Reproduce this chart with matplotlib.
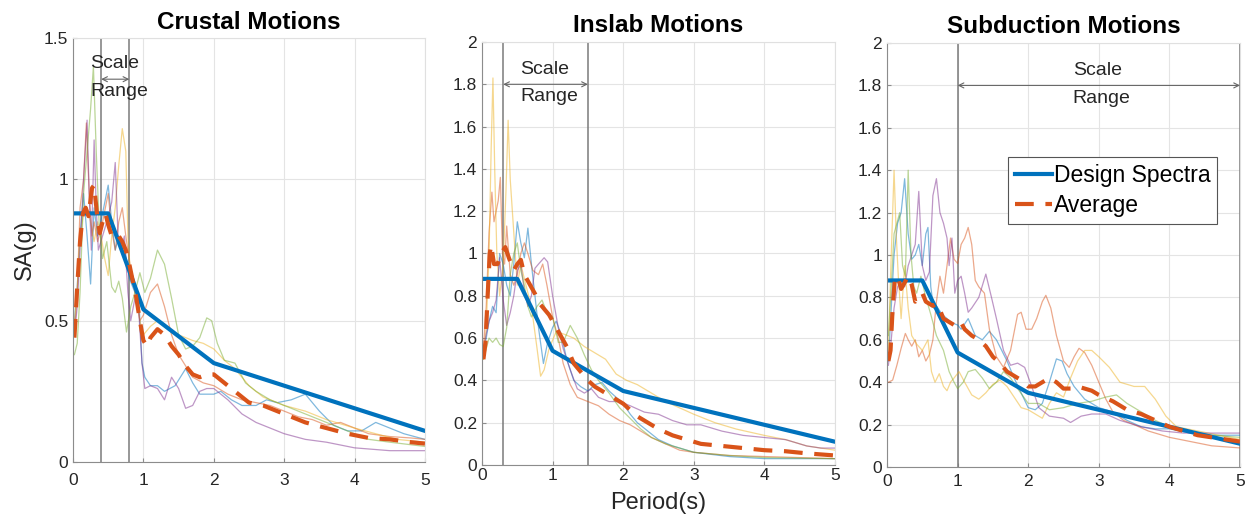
import numpy as np
import matplotlib
matplotlib.use("Agg")
import matplotlib.pyplot as plt
from matplotlib import ticker

plt.rcParams["font.family"] = ["Liberation Sans", "DejaVu Sans"]

# design spectrum (same site for all three panels)
design_T = [0.0, 0.5, 1.0, 2.0, 5.0]
design_SA = [0.88, 0.88, 0.54, 0.35, 0.11]

# ---- Crustal motions ----
cr_avg = [(0.02, 0.44), (0.06, 0.62), (0.1, 0.78), (0.14, 0.88), (0.18, 0.9), (0.22, 0.87),
          (0.27, 0.97), (0.3, 0.98), (0.34, 0.88), (0.38, 0.81), (0.42, 0.85), (0.46, 0.88),
          (0.5, 0.84), (0.55, 0.8), (0.6, 0.79), (0.65, 0.8), (0.7, 0.78), (0.75, 0.75),
          (0.8, 0.7), (0.85, 0.64), (0.9, 0.58), (0.95, 0.5), (1.0, 0.43), (1.05, 0.41),
          (1.1, 0.44), (1.2, 0.47), (1.3, 0.45), (1.4, 0.41), (1.5, 0.38), (1.6, 0.34),
          (1.7, 0.31), (1.8, 0.3), (1.9, 0.31), (2.0, 0.31), (2.1, 0.29), (2.3, 0.25),
          (2.5, 0.21), (2.7, 0.2), (3.0, 0.17), (3.3, 0.14), (3.6, 0.12), (3.9, 0.1),
          (4.2, 0.085), (4.5, 0.08), (4.8, 0.07), (5.0, 0.065)]
cr_blue = [(0.02, 0.5), (0.06, 0.62), (0.1, 0.8), (0.15, 0.95), (0.2, 0.8), (0.25, 0.63),
           (0.3, 0.9), (0.35, 0.8), (0.42, 0.88), (0.5, 0.98), (0.55, 0.85), (0.6, 0.75),
           (0.65, 0.8), (0.72, 0.78), (0.8, 0.65), (0.88, 0.6), (0.93, 0.6), (0.98, 0.35),
           (1.02, 0.3), (1.1, 0.27), (1.2, 0.27), (1.3, 0.25), (1.45, 0.27), (1.6, 0.33),
           (1.7, 0.28), (1.8, 0.24), (2.0, 0.24), (2.1, 0.25), (2.25, 0.22), (2.4, 0.2),
           (2.6, 0.2), (2.75, 0.22), (2.9, 0.21), (3.1, 0.22), (3.3, 0.24), (3.5, 0.18),
           (3.7, 0.13), (3.9, 0.11), (4.1, 0.11), (4.3, 0.14), (4.5, 0.12), (4.7, 0.1),
           (5.0, 0.08)]
cr_red = [(0.02, 0.45), (0.06, 0.6), (0.1, 0.9), (0.15, 1.0), (0.19, 1.2), (0.23, 0.95),
          (0.27, 0.8), (0.3, 0.85), (0.35, 0.78), (0.42, 0.85), (0.5, 0.95), (0.55, 0.82),
          (0.6, 0.75), (0.65, 0.85), (0.7, 0.9), (0.75, 0.8), (0.82, 0.68), (0.88, 0.6),
          (0.95, 0.5), (1.0, 0.52), (1.1, 0.6), (1.2, 0.63), (1.3, 0.55), (1.4, 0.45),
          (1.5, 0.38), (1.6, 0.34), (1.7, 0.3), (1.85, 0.28), (2.0, 0.27), (2.2, 0.24),
          (2.4, 0.22), (2.6, 0.21), (2.8, 0.2), (3.0, 0.18), (3.2, 0.16), (3.4, 0.15),
          (3.6, 0.13), (3.8, 0.14), (4.0, 0.12), (4.2, 0.1), (4.5, 0.09), (4.8, 0.085),
          (5.0, 0.08)]
cr_yellow = [(0.02, 0.5), (0.06, 0.6), (0.1, 0.8), (0.15, 0.88), (0.2, 0.9), (0.25, 0.85),
             (0.3, 0.78), (0.35, 0.85), (0.4, 0.8), (0.45, 0.72), (0.5, 0.66), (0.55, 0.8),
             (0.6, 0.9), (0.65, 1.05), (0.7, 1.18), (0.75, 1.1), (0.78, 0.8), (0.82, 0.65),
             (0.9, 0.6), (0.95, 0.5), (1.0, 0.45), (1.1, 0.48), (1.2, 0.5), (1.35, 0.47),
             (1.5, 0.45), (1.7, 0.43), (1.85, 0.42), (2.0, 0.4), (2.15, 0.36), (2.3, 0.33),
             (2.5, 0.27), (2.7, 0.23), (3.0, 0.2), (3.3, 0.18), (3.6, 0.15), (4.0, 0.12),
             (4.3, 0.1), (4.6, 0.08), (5.0, 0.07)]
cr_purple = [(0.02, 0.45), (0.06, 0.55), (0.1, 0.75), (0.15, 1.0), (0.2, 1.21), (0.23, 0.95),
             (0.26, 0.75), (0.3, 1.14), (0.33, 0.9), (0.36, 0.75), (0.42, 0.8), (0.48, 0.85),
             (0.55, 0.92), (0.6, 1.06), (0.64, 0.8), (0.68, 0.75), (0.73, 0.8), (0.78, 0.6),
             (0.82, 0.5), (0.88, 0.58), (0.93, 0.55), (0.98, 0.35), (1.02, 0.26), (1.1, 0.27),
             (1.2, 0.26), (1.3, 0.22), (1.4, 0.3), (1.5, 0.26), (1.6, 0.19), (1.7, 0.2),
             (1.8, 0.25), (1.9, 0.26), (2.0, 0.26), (2.2, 0.22), (2.4, 0.17), (2.6, 0.14),
             (2.8, 0.12), (3.0, 0.1), (3.3, 0.08), (3.6, 0.07), (4.0, 0.05), (4.5, 0.04),
             (5.0, 0.04)]
cr_green = [(0.02, 0.38), (0.06, 0.42), (0.1, 0.6), (0.15, 0.95), (0.2, 1.1), (0.25, 1.25),
            (0.29, 1.4), (0.33, 1.1), (0.37, 0.85), (0.42, 0.72), (0.48, 0.78), (0.55, 0.62),
            (0.6, 0.6), (0.65, 0.64), (0.7, 0.58), (0.76, 0.46), (0.82, 0.55), (0.88, 0.6),
            (0.95, 0.67), (1.02, 0.6), (1.1, 0.65), (1.2, 0.75), (1.3, 0.7), (1.4, 0.58),
            (1.5, 0.45), (1.6, 0.4), (1.7, 0.41), (1.8, 0.44), (1.9, 0.51), (1.97, 0.5),
            (2.05, 0.42), (2.15, 0.36), (2.3, 0.35), (2.45, 0.28), (2.6, 0.25), (2.8, 0.22),
            (3.0, 0.2), (3.3, 0.17), (3.6, 0.14), (3.9, 0.11), (4.2, 0.08), (4.5, 0.07),
            (5.0, 0.055)]

# ---- Inslab motions ----
in_avg = [(0.02, 0.5), (0.05, 0.58), (0.08, 0.8), (0.11, 1.0), (0.13, 1.04), (0.17, 0.95),
          (0.22, 0.95), (0.27, 1.0), (0.33, 1.03), (0.38, 0.98), (0.45, 0.92), (0.5, 0.95),
          (0.55, 0.97), (0.6, 0.9), (0.65, 0.87), (0.7, 0.84), (0.75, 0.81), (0.8, 0.77),
          (0.9, 0.73), (0.95, 0.71), (1.0, 0.68), (1.1, 0.62), (1.2, 0.56), (1.3, 0.48),
          (1.4, 0.44), (1.5, 0.4), (1.6, 0.37), (1.7, 0.35), (1.8, 0.33), (1.9, 0.31),
          (2.0, 0.29), (2.1, 0.26), (2.2, 0.23), (2.35, 0.2), (2.5, 0.17), (2.7, 0.14),
          (2.9, 0.12), (3.1, 0.1), (3.4, 0.09), (3.7, 0.08), (4.0, 0.07), (4.3, 0.065),
          (4.6, 0.055), (5.0, 0.045)]
in_blue = [(0.02, 0.55), (0.06, 0.6), (0.1, 0.68), (0.15, 0.75), (0.2, 0.72), (0.25, 1.0),
           (0.3, 0.95), (0.35, 0.85), (0.4, 0.8), (0.45, 0.95), (0.5, 1.15), (0.55, 1.05),
           (0.6, 0.98), (0.65, 1.12), (0.7, 0.95), (0.75, 0.8), (0.8, 0.65), (0.87, 0.48),
           (0.93, 0.58), (1.0, 0.65), (1.05, 0.68), (1.12, 0.62), (1.2, 0.5), (1.3, 0.4),
           (1.4, 0.37), (1.5, 0.35), (1.6, 0.38), (1.7, 0.39), (1.8, 0.35), (1.9, 0.32),
           (2.0, 0.29), (2.1, 0.24), (2.2, 0.2), (2.35, 0.16), (2.5, 0.12), (2.7, 0.09),
           (3.0, 0.06), (3.5, 0.04), (4.0, 0.03), (5.0, 0.03)]
in_red = [(0.02, 0.55), (0.06, 0.75), (0.1, 1.1), (0.14, 1.29), (0.17, 1.15), (0.2, 1.2),
          (0.23, 1.25), (0.26, 1.36), (0.29, 1.0), (0.32, 0.95), (0.35, 1.13), (0.4, 0.9),
          (0.45, 0.85), (0.5, 0.9), (0.55, 1.0), (0.6, 1.05), (0.65, 1.0), (0.72, 0.92),
          (0.8, 0.9), (0.86, 0.95), (0.92, 0.85), (1.0, 0.7), (1.08, 0.6), (1.15, 0.48),
          (1.25, 0.38), (1.35, 0.32), (1.5, 0.3), (1.65, 0.28), (1.8, 0.24), (1.95, 0.21),
          (2.1, 0.19), (2.25, 0.16), (2.4, 0.13), (2.6, 0.1), (2.8, 0.07), (3.0, 0.06),
          (3.5, 0.045), (4.0, 0.04), (4.5, 0.035), (5.0, 0.03)]
in_yellow = [(0.02, 0.5), (0.06, 0.65), (0.1, 1.0), (0.13, 1.5), (0.155, 1.83), (0.18, 1.4),
             (0.21, 1.0), (0.25, 0.8), (0.3, 0.95), (0.34, 1.3), (0.37, 1.63), (0.4, 1.35),
             (0.45, 1.1), (0.5, 0.85), (0.55, 0.95), (0.6, 0.88), (0.66, 0.8), (0.72, 0.7),
             (0.78, 0.55), (0.83, 0.42), (0.88, 0.45), (0.95, 0.55), (1.05, 0.63), (1.15, 0.62),
             (1.3, 0.6), (1.45, 0.56), (1.6, 0.53), (1.75, 0.5), (1.9, 0.43), (2.05, 0.4),
             (2.2, 0.38), (2.4, 0.34), (2.6, 0.3), (2.8, 0.27), (3.0, 0.24), (3.3, 0.2),
             (3.6, 0.17), (4.0, 0.14), (4.3, 0.12), (4.6, 0.09), (5.0, 0.07)]
in_purple = [(0.02, 0.55), (0.06, 0.62), (0.1, 0.68), (0.15, 0.72), (0.2, 0.78), (0.25, 0.98),
             (0.3, 0.78), (0.35, 0.66), (0.4, 0.72), (0.45, 0.8), (0.5, 0.92), (0.55, 0.95),
             (0.6, 0.82), (0.65, 0.75), (0.7, 0.8), (0.75, 0.93), (0.8, 0.95), (0.88, 0.98),
             (0.93, 0.96), (1.0, 0.8), (1.08, 0.65), (1.15, 0.55), (1.25, 0.45), (1.35, 0.36),
             (1.45, 0.34), (1.55, 0.36), (1.65, 0.32), (1.8, 0.3), (1.95, 0.3), (2.1, 0.28),
             (2.3, 0.25), (2.5, 0.24), (2.7, 0.21), (2.9, 0.19), (3.1, 0.19), (3.4, 0.16),
             (3.7, 0.14), (4.0, 0.13), (4.3, 0.12), (4.6, 0.09), (4.8, 0.08), (5.0, 0.08)]
in_green = [(0.02, 0.5), (0.06, 0.55), (0.1, 0.6), (0.15, 0.58), (0.2, 0.6), (0.25, 0.57),
            (0.3, 0.56), (0.35, 0.65), (0.4, 0.9), (0.45, 1.0), (0.5, 1.05), (0.55, 0.92),
            (0.6, 0.85), (0.65, 0.75), (0.7, 0.7), (0.78, 0.75), (0.85, 0.78), (0.92, 0.72),
            (1.0, 0.7), (1.08, 0.58), (1.15, 0.58), (1.25, 0.66), (1.35, 0.6), (1.45, 0.52),
            (1.55, 0.45), (1.65, 0.4), (1.8, 0.34), (1.95, 0.27), (2.1, 0.22), (2.25, 0.17),
            (2.4, 0.13), (2.6, 0.1), (2.8, 0.08), (3.0, 0.06), (3.5, 0.045), (4.0, 0.035),
            (5.0, 0.03)]

# ---- Subduction motions ----
su_avg = [(0.02, 0.5), (0.05, 0.55), (0.08, 0.75), (0.11, 0.88), (0.15, 0.9), (0.2, 0.84),
          (0.25, 0.87), (0.3, 0.9), (0.35, 0.86), (0.4, 0.78), (0.45, 0.8), (0.5, 0.82),
          (0.55, 0.78), (0.6, 0.77), (0.65, 0.76), (0.7, 0.77), (0.75, 0.74), (0.8, 0.7),
          (0.85, 0.69), (0.9, 0.68), (0.95, 0.67), (1.0, 0.66), (1.05, 0.68), (1.1, 0.65),
          (1.2, 0.62), (1.3, 0.6), (1.4, 0.57), (1.5, 0.52), (1.6, 0.49), (1.7, 0.45),
          (1.8, 0.43), (1.9, 0.41), (2.0, 0.38), (2.1, 0.38), (2.2, 0.4), (2.3, 0.42),
          (2.4, 0.4), (2.5, 0.37), (2.6, 0.37), (2.7, 0.38), (2.8, 0.37), (2.9, 0.36),
          (3.0, 0.34), (3.2, 0.31), (3.4, 0.27), (3.6, 0.25), (3.8, 0.22), (4.0, 0.19),
          (4.2, 0.17), (4.4, 0.15), (4.6, 0.14), (4.8, 0.13), (5.0, 0.12)]
su_blue = [(0.02, 0.5), (0.06, 0.75), (0.1, 1.0), (0.15, 1.15), (0.2, 1.2), (0.25, 1.36),
           (0.3, 1.1), (0.35, 0.98), (0.4, 1.0), (0.45, 1.05), (0.5, 0.95), (0.55, 1.1),
           (0.58, 1.13), (0.62, 0.85), (0.66, 0.75), (0.7, 0.76), (0.78, 0.72), (0.85, 0.7),
           (0.92, 0.68), (1.0, 0.67), (1.05, 0.65), (1.15, 0.7), (1.25, 0.62), (1.35, 0.6),
           (1.45, 0.64), (1.55, 0.6), (1.7, 0.5), (1.8, 0.42), (1.9, 0.35), (2.0, 0.28),
           (2.1, 0.27), (2.2, 0.3), (2.3, 0.4), (2.4, 0.51), (2.48, 0.5), (2.55, 0.44),
           (2.65, 0.38), (2.8, 0.32), (3.0, 0.28), (3.2, 0.26), (3.4, 0.22), (3.6, 0.19),
           (3.8, 0.18), (4.0, 0.18), (4.3, 0.16), (4.6, 0.15), (5.0, 0.15)]
su_red = [(0.02, 0.4), (0.08, 0.41), (0.14, 0.48), (0.2, 0.56), (0.26, 0.63), (0.3, 0.6),
          (0.35, 0.57), (0.4, 0.6), (0.45, 0.52), (0.5, 0.55), (0.55, 0.5), (0.6, 0.53),
          (0.65, 0.6), (0.7, 0.78), (0.75, 0.9), (0.8, 0.82), (0.85, 0.95), (0.9, 1.08),
          (0.95, 0.98), (1.0, 0.96), (1.05, 1.05), (1.1, 1.08), (1.15, 1.13), (1.2, 1.05),
          (1.25, 0.88), (1.3, 0.85), (1.38, 0.82), (1.45, 0.65), (1.55, 0.52), (1.65, 0.47),
          (1.75, 0.55), (1.85, 0.72), (1.9, 0.73), (1.97, 0.65), (2.05, 0.65), (2.12, 0.7),
          (2.2, 0.78), (2.25, 0.81), (2.32, 0.75), (2.4, 0.62), (2.5, 0.5), (2.58, 0.47),
          (2.65, 0.52), (2.72, 0.56), (2.8, 0.54), (2.9, 0.48), (3.0, 0.4), (3.1, 0.32),
          (3.2, 0.26), (3.35, 0.22), (3.5, 0.2), (3.7, 0.17), (4.0, 0.14), (4.3, 0.12),
          (4.6, 0.1), (5.0, 0.09)]
su_yellow = [(0.02, 0.55), (0.05, 0.9), (0.08, 1.2), (0.1, 1.4), (0.13, 1.1), (0.16, 0.9),
             (0.2, 0.7), (0.25, 0.95), (0.3, 0.75), (0.35, 0.62), (0.42, 0.58), (0.5, 0.55),
             (0.58, 0.6), (0.63, 0.45), (0.68, 0.4), (0.74, 0.44), (0.8, 0.38), (0.85, 0.36),
             (0.9, 0.4), (0.95, 0.42), (1.02, 0.45), (1.1, 0.4), (1.2, 0.34), (1.3, 0.32),
             (1.4, 0.35), (1.5, 0.39), (1.6, 0.41), (1.7, 0.38), (1.8, 0.33), (1.9, 0.28),
             (2.0, 0.27), (2.1, 0.25), (2.2, 0.23), (2.3, 0.3), (2.4, 0.35), (2.5, 0.33),
             (2.6, 0.42), (2.7, 0.5), (2.8, 0.55), (2.9, 0.55), (3.0, 0.52), (3.15, 0.47),
             (3.3, 0.4), (3.5, 0.38), (3.65, 0.38), (3.8, 0.32), (3.95, 0.24), (4.1, 0.19),
             (4.4, 0.17), (4.7, 0.15), (5.0, 0.13)]
su_purple = [(0.02, 0.48), (0.06, 0.6), (0.1, 0.75), (0.15, 0.85), (0.2, 0.88), (0.25, 0.85),
             (0.3, 0.95), (0.35, 1.0), (0.4, 1.05), (0.45, 1.3), (0.5, 0.95), (0.55, 0.88),
             (0.6, 0.92), (0.65, 1.28), (0.7, 1.36), (0.75, 1.2), (0.8, 1.15), (0.85, 1.08),
             (0.88, 0.95), (0.92, 1.08), (0.96, 0.82), (1.0, 0.88), (1.05, 0.9), (1.1, 0.82),
             (1.15, 0.73), (1.2, 0.75), (1.3, 0.8), (1.4, 0.91), (1.48, 0.8), (1.55, 0.7),
             (1.65, 0.55), (1.75, 0.48), (1.85, 0.49), (1.95, 0.47), (2.05, 0.38), (2.15, 0.28),
             (2.3, 0.24), (2.5, 0.23), (2.6, 0.21), (2.75, 0.24), (2.9, 0.25), (3.1, 0.25),
             (3.3, 0.22), (3.6, 0.19), (3.9, 0.17), (4.2, 0.16), (4.5, 0.16), (5.0, 0.16)]
su_green = [(0.02, 0.62), (0.06, 0.85), (0.1, 1.1), (0.14, 1.15), (0.18, 1.2), (0.22, 0.95),
            (0.26, 0.9), (0.3, 1.4), (0.34, 1.0), (0.38, 0.85), (0.42, 0.82), (0.48, 0.9),
            (0.55, 0.8), (0.62, 0.72), (0.7, 0.62), (0.8, 0.55), (0.88, 0.45), (0.95, 0.4),
            (1.0, 0.37), (1.08, 0.4), (1.15, 0.45), (1.25, 0.46), (1.35, 0.42), (1.45, 0.37),
            (1.55, 0.4), (1.65, 0.45), (1.75, 0.42), (1.85, 0.37), (2.0, 0.3), (2.15, 0.3),
            (2.3, 0.27), (2.5, 0.28), (2.7, 0.3), (2.9, 0.31), (3.1, 0.33), (3.25, 0.34),
            (3.4, 0.3), (3.6, 0.26), (3.8, 0.22), (4.0, 0.19), (4.3, 0.17), (4.6, 0.15),
            (5.0, 0.14)]

# MATLAB default colour order
c_blue = "#0072BD"
c_red = "#D95319"
c_yellow = "#EDB120"
c_purple = "#7E2F8E"
c_green = "#77AC30"

panels = [
    dict(title="Crustal Motions", ymax=1.5, ystep=0.5, scale=(0.4, 0.8), arrow_y=1.355,
         text_x=0.24, text_dy=(0.055, 0.045), avg=cr_avg,
         recs=[cr_blue, cr_red, cr_yellow, cr_purple, cr_green],
         pos=[0.0584, 0.130, 0.2816, 0.798], xpad=8),
    dict(title="Inslab Motions", ymax=2.0, ystep=0.2, scale=(0.3, 1.5), arrow_y=1.8,
         text_x=0.54, text_dy=(0.07, 0.06), avg=in_avg,
         recs=[in_blue, in_red, in_yellow, in_purple, in_green],
         pos=[0.3856, 0.1243, 0.2824, 0.7966], xpad=2),
    dict(title="Subduction Motions", ymax=2.0, ystep=0.2, scale=(1.0, 5.0), arrow_y=1.8,
         text_x=2.63, text_dy=(0.07, 0.06), avg=su_avg,
         recs=[su_blue, su_red, su_yellow, su_purple, su_green],
         pos=[0.7096, 0.1205, 0.2824, 0.7985], xpad=5),
]

fig = plt.figure(figsize=(12.5, 5.31), dpi=100)

rec_colors = [c_blue, c_red, c_yellow, c_purple, c_green]
axes = []
for p in panels:
    ax = fig.add_axes(p["pos"])
    axes.append(ax)

    for rec, col in zip(p["recs"], rec_colors):
        r = np.array(rec)
        ax.plot(r[:, 0], r[:, 1], color=col, lw=0.9, alpha=0.5)

    ax.plot(design_T, design_SA, color=c_blue, lw=3.0, label="Design Spectra",
            solid_joinstyle="round")
    a = np.array(p["avg"])
    ax.plot(a[:, 0], a[:, 1], color=c_red, lw=3.0, dashes=(4.5, 2.8),
            label="Average")

    # scale range markers
    for xv in p["scale"]:
        ax.axvline(xv, color="#7a7a7a", lw=1.1, zorder=1)
    ax.annotate("", xy=(p["scale"][1], p["arrow_y"]), xytext=(p["scale"][0], p["arrow_y"]),
                arrowprops=dict(arrowstyle="<->", color="#666666", lw=0.8,
                                shrinkA=0, shrinkB=0, mutation_scale=9))
    ax.text(p["text_x"], p["arrow_y"] + p["text_dy"][0], "Scale", fontsize=14,
            ha="left", va="center", color="#262626")
    ax.text(p["text_x"], p["arrow_y"] - p["text_dy"][1], "Range", fontsize=14,
            ha="left", va="center", color="#262626")

    ax.set_xlim(0, 5)
    ax.set_ylim(0, p["ymax"])
    ax.xaxis.set_major_locator(ticker.MultipleLocator(1))
    ax.yaxis.set_major_locator(ticker.MultipleLocator(p["ystep"]))
    ax.yaxis.set_major_formatter(ticker.FormatStrFormatter("%g"))
    ax.grid(True, color="#e4e4e4", lw=0.8)
    ax.set_axisbelow(True)
    for side in ["left", "bottom"]:
        ax.spines[side].set_color("#8c8c8c")
    for side in ["top", "right"]:
        ax.spines[side].set_color("#e0e0e0")
    ax.tick_params(direction="in", length=3, color="#8c8c8c", labelsize=12.5,
                   labelcolor="#262626")
    ax.tick_params(axis="x", pad=p["xpad"])
    ax.set_title(p["title"], fontsize=17.5, fontweight="bold", pad=7)

axes[0].set_ylabel("SA(g)", fontsize=17, color="#262626")
axes[0].yaxis.set_label_coords(-0.105, 0.5)
axes[1].set_xlabel("Period(s)", fontsize=17, color="#262626")
axes[1].xaxis.set_label_coords(0.5, -0.064)

leg = axes[2].legend(loc="upper left", bbox_to_anchor=(0.343, 0.731), fontsize=16.5,
                     fancybox=False, framealpha=1, edgecolor="#555555",
                     handlelength=1.6, handletextpad=0.1, labelspacing=0.3,
                     borderpad=0.3, borderaxespad=0)
leg.get_frame().set_linewidth(0.8)

fig.savefig("out.png", dpi=100)
